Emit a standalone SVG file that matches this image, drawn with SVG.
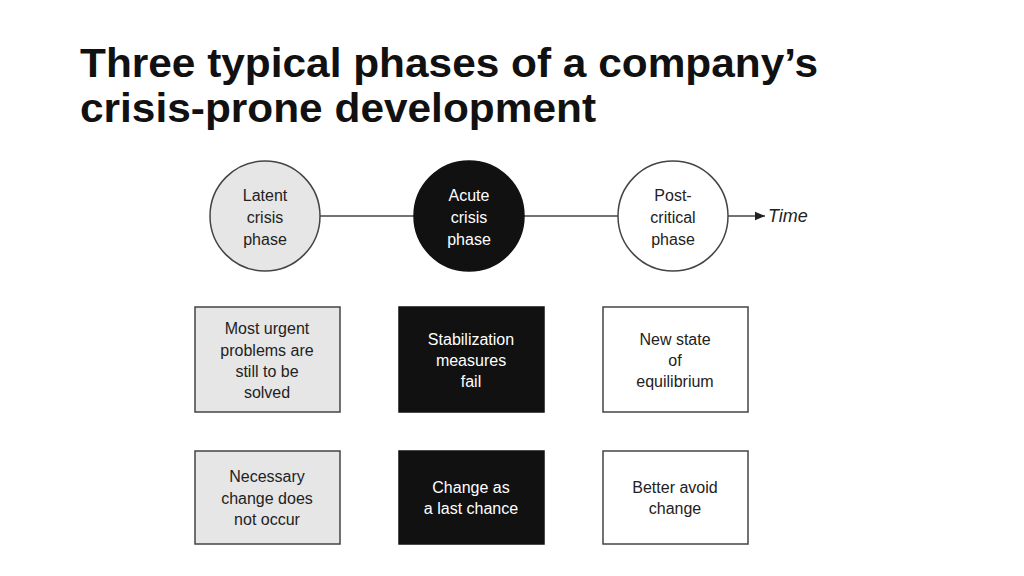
<svg xmlns="http://www.w3.org/2000/svg" width="1024" height="576" viewBox="0 0 1024 576">
<style>
.t{font-family:"Liberation Sans",Arial,sans-serif;font-size:16px;text-anchor:middle}
.d{fill:#222}.w{fill:#fff}
.l{fill:#e6e6e6;stroke:#444;stroke-width:1.5}
.k{fill:#111;stroke:#111;stroke-width:1.5}
.o{fill:#fff;stroke:#444;stroke-width:1.5}
.h{font-family:"Liberation Sans",Arial,sans-serif;font-size:40px;font-weight:bold;fill:#111}
</style>
<defs><marker id="a" markerWidth="8" markerHeight="8" refX="7" refY="4" orient="auto"><path d="M0,1 L7,4 L0,7z" fill="#222"/></marker></defs>
<rect width="1024" height="576" fill="#fff"/>
<text class="h" x="80" y="77" textLength="738" lengthAdjust="spacingAndGlyphs">Three typical phases of a company’s</text>
<text class="h" x="80" y="122" textLength="516" lengthAdjust="spacingAndGlyphs">crisis-prone development</text>
<g id="connectors" stroke="#444" stroke-width="1.5">
<line x1="320" y1="216" x2="414" y2="216"/>
<line x1="524" y1="216" x2="618" y2="216"/>
<line x1="728" y1="216" x2="765" y2="216" marker-end="url(#a)"/>
</g>
<text x="768" y="222" font-family="Liberation Sans,Arial,sans-serif" font-size="18" font-style="italic" fill="#222">Time</text>
<g id="latent"><circle cx="265" cy="216" r="55" class="l"/><text class="t d" x="265" y="201">Latent</text><text class="t d" x="265" y="223">crisis</text><text class="t d" x="265" y="245">phase</text></g>
<g id="acute"><circle cx="469" cy="216" r="55" class="k"/><text class="t w" x="469" y="201">Acute</text><text class="t w" x="469" y="223">crisis</text><text class="t w" x="469" y="245">phase</text></g>
<g id="post"><circle cx="673" cy="216" r="55" class="o"/><text class="t d" x="673" y="201">Post-</text><text class="t d" x="673" y="223">critical</text><text class="t d" x="673" y="245">phase</text></g>
<g id="b1"><rect x="195" y="307" width="145" height="105" class="l"/><text class="t d" x="267" y="334">Most urgent</text><text class="t d" x="267" y="356">problems are</text><text class="t d" x="267" y="377">still to be</text><text class="t d" x="267" y="398">solved</text></g>
<g id="b2"><rect x="399" y="307" width="145" height="105" class="k"/><text class="t w" x="471" y="345">Stabilization</text><text class="t w" x="471" y="366">measures</text><text class="t w" x="471" y="387">fail</text></g>
<g id="b3"><rect x="603" y="307" width="145" height="105" class="o"/><text class="t d" x="675" y="345">New state</text><text class="t d" x="675" y="366">of</text><text class="t d" x="675" y="387">equilibrium</text></g>
<g id="b4"><rect x="195" y="451" width="145" height="93" class="l"/><text class="t d" x="267" y="482">Necessary</text><text class="t d" x="267" y="504">change does</text><text class="t d" x="267" y="525">not occur</text></g>
<g id="b5"><rect x="399" y="451" width="145" height="93" class="k"/><text class="t w" x="471" y="493">Change as</text><text class="t w" x="471" y="514">a last chance</text></g>
<g id="b6"><rect x="603" y="451" width="145" height="93" class="o"/><text class="t d" x="675" y="493">Better avoid</text><text class="t d" x="675" y="514">change</text></g>
</svg>
